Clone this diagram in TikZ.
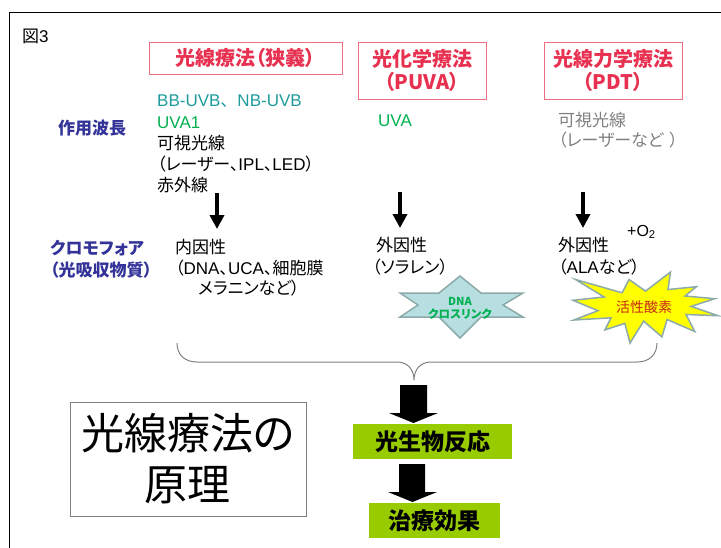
\documentclass[tikz,border=0pt]{standalone}
\usepackage{fontspec}
\setmainfont{Noto Sans CJK JP}[RawFeature=+palt]
\newfontfamily\lat{Liberation Sans}
\newfontfamily\jpfull{Noto Sans CJK JP}
\usetikzlibrary{arrows.meta}
\definecolor{ttlred}{RGB}{232,48,80}
\definecolor{ttlborder}{RGB}{240,110,130}
\definecolor{lblblue}{RGB}{51,51,153}
\definecolor{tealtxt}{RGB}{31,155,155}
\definecolor{greentxt}{RGB}{0,176,80}
\definecolor{graytxt}{RGB}{128,128,128}
\definecolor{boxgreen}{RGB}{153,204,0}
\definecolor{starblue}{RGB}{183,222,224}
\definecolor{starborder}{RGB}{140,170,170}
\definecolor{staryellow}{RGB}{255,255,0}
\definecolor{oxred}{RGB}{200,40,20}
\begin{document}
\begin{tikzpicture}[x=1pt,y=-1pt,
  txt/.style={anchor=base west, inner sep=0pt, font=\fontsize{17}{20}\selectfont},
  lbl/.style={anchor=base west, inner sep=0pt, font=\fontsize{17}{20}\selectfont\bfseries, text=lblblue},
  ttl/.style={draw=ttlborder, line width=1pt, text=ttlred, font=\fontsize{20}{23}\selectfont\bfseries, align=center, inner sep=0pt},
  thinarrow/.style={line width=4pt, -{Triangle[width=14pt,length=14pt]}},
  greenbox/.style={fill=boxgreen, inner sep=0pt, font=\fontsize{23}{26}\selectfont\bfseries},
  bracestyle/.style={draw=graytxt, line width=1pt}
]
\useasboundingbox (0,0) rectangle (721,547);
\clip (0,0) rectangle (721,547);
% frame
\draw[line width=1.5pt] (9.5,560) -- (9.5,12.5) -- (730,12.5);
\node[txt] (fig) at (22,42) {図{\lat 3}};

% titles
\node[ttl, minimum width=193pt, minimum height=32pt] (t1) at (245.5,58) {光線療法（狭義）};
\node[ttl, minimum width=128pt, minimum height=57pt] (t2) at (422,70.5) {光化学療法\\（PUVA）};
\node[ttl, minimum width=138pt, minimum height=57pt] (t3) at (613,70.5) {光線力学療法\\（PDT）};

% left labels
\node[lbl] (l1) at (58,134) {作用波長};
\node[lbl] (l2) at (50,254) {クロモフォア};
\node[lbl] (l3) at (50,276) {（光吸収物質）};

% column 1
\node[txt, text=tealtxt] (a1) at (157,106) {{\lat BB-UVB}{\jpfull 、}{\lat NB-UVB}};
\node[txt, text=greentxt] (a2) at (157,128) {{\lat UVA1}};
\node[txt] (a3) at (157,149) {可視光線};
\node[txt] (a4) at (157,170) {（レーザー、{\lat IPL}、{\lat LED}）};
\node[txt] (a5) at (157,191) {赤外線};
\node[txt] (a6) at (175,253) {内因性};
\node[txt] (a7) at (175,274) {（{\lat DNA}、{\lat UCA}、細胞膜};
\node[txt] (a8) at (198,294) {メラニンなど）};

% column 2
\node[txt, text=greentxt] (b1) at (378,126) {{\lat UVA}};
\node[txt] (b2) at (376,251) {外因性};
\node[txt] (b3) at (372,273) {（ソラレン）};

% column 3
\node[txt, text=graytxt] (c1) at (558,126) {可視光線};
\node[txt, text=graytxt] (c2) at (558,146) {（レーザーなど\hspace{6pt}）};
\node[txt] (c3) at (558,251) {外因性};
\node[txt] (c4) at (558,273) {（{\lat ALA}など）};
\node[anchor=base west, inner sep=0pt, font=\fontsize{16}{18}\selectfont\lat] (o2) at (627,236) {+O\textsubscript{2}};

% thin arrows
\coordinate (s1) at (217,193); \coordinate (e1) at (217,229);
\coordinate (s2) at (400,192); \coordinate (e2) at (400,228);
\coordinate (s3) at (583,192); \coordinate (e3) at (583,228);
\draw[thinarrow] (s1) -- (e1);
\draw[thinarrow] (s2) -- (e2);
\draw[thinarrow] (s3) -- (e3);

% DNA cross-link star
\draw[fill=starblue, draw=starborder, line width=1.5pt, line join=miter]
  (460,276) -- (481,293) -- (523,293) -- (503,305) -- (523,317) -- (481,317)
  -- (460,338) -- (439,317) -- (400,317) -- (418,305) -- (400,293) -- (439,293) -- cycle;
\node[inner sep=0pt, text=greentxt, font=\fontsize{11}{13}\selectfont\bfseries] (dna1) at (460,301.5) {DNA};
\node[inner sep=0pt, text=greentxt, font=\fontsize{11.5}{13}\selectfont\bfseries] (dna2) at (460,314) {クロスリンク};

% reactive oxygen explosion
\draw[fill=staryellow, draw=starborder, line width=1.5pt, line join=miter]
  (645.5,291.1) -- (670.5,272) -- (668.0,289.5) -- (696.4,286.7) -- (685.1,296.0)
  -- (714.6,298.7) -- (691.2,306.4) -- (718,315.7) -- (686.0,314.5) -- (694.8,331.5)
  -- (667.1,319.5) -- (661.9,336.9) -- (643.7,321.1) -- (630.0,343) -- (624.8,323.4)
  -- (605.0,329.9) -- (611.0,317.8) -- (573.9,320.0) -- (598.0,310.7) -- (573,300.3)
  -- (604.1,297.0) -- (575.5,279.5) -- (622.1,292.8) -- (629.1,279.5) -- cycle;
\node[inner sep=0pt, text=oxred, font=\fontsize{14}{16}\selectfont] (ros) at (644,307) {活性酸素};

% brace
\draw[bracestyle] (177,343) .. controls (177,355) and (185,362) .. (197,362) -- (397,362)
  .. controls (408,362) and (414,370) .. (414,380)
  .. controls (414,370) and (420,362) .. (431,362) -- (637,362)
  .. controls (649,362) and (657,355) .. (657,343);

% principle box
\node[draw=graytxt, line width=1pt, minimum width=236pt, minimum height=114pt, inner sep=0pt,
      font=\fontsize{43}{51}\selectfont, align=center] (princ) at (188,459) {光線療法の\\原理};

% green boxes
\node[greenbox, minimum width=159pt, minimum height=35pt] (g1) at (432.5,441.5) {光生物反応};
\node[greenbox, minimum width=131pt, minimum height=35pt] (g2) at (434.5,520.5) {治療効果};

% block arrows
\fill[black] (400,385) -- (427,385) -- (427,413) -- (438,413) -- (413.5,423) -- (389,413) -- (400,413) -- cycle;
\fill[black] (399,464) -- (425,464) -- (425,492) -- (437,492) -- (412.5,502) -- (388,492) -- (399,492) -- cycle;
\end{tikzpicture}
\end{document}
